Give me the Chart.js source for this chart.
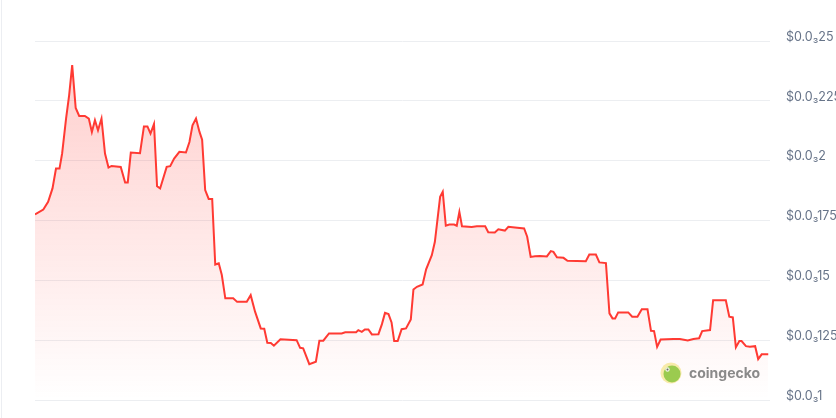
<!DOCTYPE html>
<html>
<head>
<meta charset="utf-8">
<script src="https://cdn.jsdelivr.net/npm/chart.js@4.4.1/dist/chart.umd.min.js"></script>
<style>
  html, body { margin: 0; padding: 0; background: #ffffff; }
  #wrap { position: relative; width: 836px; height: 418px; }
</style>
</head>
<body>
<div id="wrap"><canvas id="priceChart"></canvas></div>
<script>
// 시간 (시작 후 경과 시간, 7일)
const hours = [
  0, 1.9, 3.0, 4.0, 4.8, 5.6, 6.2, 7.1, 7.8, 8.5,
  9.3, 10.1, 11.4, 12.3, 13.0, 13.7, 14.4, 15.2, 16.0, 16.8,
  17.5, 19.6, 20.6, 21.2, 21.9, 24.0, 24.9, 25.7, 26.4, 27.2,
  27.9, 28.6, 30.1, 30.9, 31.8, 33.0, 34.5, 35.3, 36.0, 36.8,
  37.6, 38.2, 38.9, 39.7, 40.5, 41.2, 42.0, 42.7, 43.5, 45.3,
  46.2, 48.4, 49.3, 50.3, 51.6, 52.4, 53.1, 53.9, 54.6, 56.1,
  59.8, 60.6, 61.3, 62.7, 64.2, 65.0, 65.9, 67.2, 70.1, 70.9,
  73.4, 73.9, 74.7, 75.4, 76.2, 77.0, 78.5, 79.3, 80.0, 80.8,
  81.5, 82.1, 82.9, 83.8, 84.8, 85.9, 86.5, 87.3, 88.6, 89.4,
  90.7, 91.4, 92.6, 93.2, 93.9, 94.7, 95.8, 96.4, 97.0, 97.6,
  99.8, 101.0, 102.9, 103.6, 105.1, 105.9, 107.4, 108.2, 109.7, 111.8,
  112.5, 113.3, 114.3, 115.4, 117.0, 117.9, 118.5, 119.3, 120.8, 121.7,
  125.9, 126.7, 128.2, 129.0, 130.5, 131.3, 132.0, 132.6, 133.3, 135.6,
  136.5, 137.7, 138.7, 140.0, 140.8, 141.5, 142.2, 143.0, 145.9, 147.4,
  149.2, 150.5, 151.8, 152.5, 154.3, 155.0, 157.9, 158.7, 159.5, 160.2,
  161.0, 161.5, 162.5, 163.4, 164.6, 165.3, 166.1, 167.6
];

// 가격 (USD)
const prices = [
  0.0001775, 0.0001796, 0.0001828, 0.0001884, 0.0001967, 0.0001967, 0.0002030, 0.0002176, 0.0002273, 0.0002399,
  0.0002220, 0.0002187, 0.0002187, 0.0002176, 0.0002120, 0.0002169, 0.0002127, 0.0002176, 0.0002030, 0.0001971,
  0.0001978, 0.0001974, 0.0001909, 0.0001909, 0.0002034, 0.0002031, 0.0002143, 0.0002143, 0.0002113, 0.0002153,
  0.0001893, 0.0001884, 0.0001974, 0.0001977, 0.0002009, 0.0002037, 0.0002034, 0.0002078, 0.0002148, 0.0002176,
  0.0002120, 0.0002088, 0.0001877, 0.0001840, 0.0001840, 0.0001566, 0.0001571, 0.0001522, 0.0001425, 0.0001425,
  0.0001410, 0.0001410, 0.0001438, 0.0001369, 0.0001299, 0.0001298, 0.0001239, 0.0001238, 0.0001227, 0.0001254,
  0.0001250, 0.0001218, 0.0001216, 0.0001150, 0.0001160, 0.0001248, 0.0001248, 0.0001278, 0.0001278, 0.0001283,
  0.0001283, 0.0001292, 0.0001285, 0.0001295, 0.0001295, 0.0001274, 0.0001275, 0.0001317, 0.0001364, 0.0001359,
  0.0001324, 0.0001246, 0.0001246, 0.0001296, 0.0001299, 0.0001337, 0.0001462, 0.0001473, 0.0001483, 0.0001546,
  0.0001605, 0.0001661, 0.0001849, 0.0001870, 0.0001728, 0.0001733, 0.0001733, 0.0001728, 0.0001786, 0.0001726,
  0.0001723, 0.0001726, 0.0001726, 0.0001701, 0.0001700, 0.0001713, 0.0001708, 0.0001724, 0.0001721, 0.0001717,
  0.0001682, 0.0001598, 0.0001601, 0.0001602, 0.0001600, 0.0001622, 0.0001619, 0.0001596, 0.0001594, 0.0001582,
  0.0001580, 0.0001608, 0.0001608, 0.0001575, 0.0001572, 0.0001362, 0.0001341, 0.0001341, 0.0001366, 0.0001366,
  0.0001348, 0.0001348, 0.0001379, 0.0001379, 0.0001289, 0.0001288, 0.0001222, 0.0001253, 0.0001255, 0.0001255,
  0.0001249, 0.0001255, 0.0001258, 0.0001288, 0.0001292, 0.0001417, 0.0001417, 0.0001348, 0.0001345, 0.0001220,
  0.0001246, 0.0001246, 0.0001225, 0.0001223, 0.0001225, 0.0001171, 0.0001191, 0.0001191
];

// Y축 눈금
const yTicks = [0.0001, 0.000125, 0.00015, 0.000175, 0.0002, 0.000225, 0.00025];
const yTickLabels = ['$0.0₃1', '$0.0₃125', '$0.0₃15', '$0.0₃175', '$0.0₃2', '$0.0₃225', '$0.0₃25'];

const LINE_COLOR = '#ff3a33';

// 영역 그라데이션
function areaGradient(context) {
  const { ctx, chartArea } = context.chart;
  if (!chartArea) return 'rgba(255, 58, 51, 0.15)';
  const g = ctx.createLinearGradient(0, chartArea.top, 0, chartArea.bottom);
  g.addColorStop(0, 'rgba(255, 58, 51, 0.26)');
  g.addColorStop(1, 'rgba(255, 58, 51, 0.0)');
  return g;
}

// 워터마크와 왼쪽 경계선
const decorPlugin = {
  id: 'decor',
  afterDraw(chart) {
    const ctx = chart.ctx;
    ctx.save();
    ctx.fillStyle = '#eceef2';
    ctx.fillRect(1, 0, 1, chart.height);

    // coingecko 로고
    ctx.globalAlpha = 0.85;
    ctx.beginPath();
    ctx.arc(671, 373, 10.5, 0, Math.PI * 2);
    ctx.fillStyle = '#f7e89c';
    ctx.fill();
    ctx.beginPath();
    ctx.arc(672, 374, 8.5, 0, Math.PI * 2);
    ctx.fillStyle = '#8cc640';
    ctx.fill();
    ctx.beginPath();
    ctx.arc(667.5, 369.5, 2.2, 0, Math.PI * 2);
    ctx.fillStyle = '#ffffff';
    ctx.fill();
    ctx.beginPath();
    ctx.arc(667.5, 369.5, 1, 0, Math.PI * 2);
    ctx.fillStyle = '#555555';
    ctx.fill();

    ctx.fillStyle = '#767676';
    ctx.font = 'bold 14px Inter, "DejaVu Sans", sans-serif';
    ctx.textBaseline = 'alphabetic';
    ctx.fillText('coingecko', 689, 378);
    ctx.restore();
  }
};

const canvas = document.getElementById('priceChart');
new Chart(canvas, {
  type: 'line',
  data: {
    datasets: [{
      data: hours.map((h, i) => ({ x: h, y: prices[i] })),
      borderColor: LINE_COLOR,
      borderWidth: 2,
      backgroundColor: areaGradient,
      fill: 'start',
      tension: 0,
      pointRadius: 0
    }]
  },
  options: {
    responsive: true,
    maintainAspectRatio: false,
    animation: false,
    layout: {
      padding: { left: 35, right: 0, top: 41, bottom: 18 }
    },
    plugins: {
      legend: { display: false },
      tooltip: { enabled: false }
    },
    scales: {
      x: {
        type: 'linear',
        min: 0,
        max: 168,
        display: false
      },
      y: {
        position: 'right',
        min: 0.0001,
        max: 0.00025,
        afterBuildTicks: scale => {
          scale.ticks = yTicks.map(v => ({ value: v }));
        },
        afterFit: scale => {
          scale.width = 66;
          // 라벨 여백이 차트 영역을 줄이지 않도록
          scale.paddingTop = 8;
          scale.paddingBottom = 8;
        },
        border: { display: false },
        grid: {
          color: '#eceef1',
          lineWidth: 1,
          drawTicks: false
        },
        ticks: {
          padding: 16,
          labelOffset: -4,
          color: '#677489',
          font: { family: 'Inter, "DejaVu Sans", sans-serif', size: 12.5 },
          callback: value => yTickLabels[yTicks.indexOf(value)]
        }
      }
    }
  },
  plugins: [decorPlugin]
});
</script>
</body>
</html>
